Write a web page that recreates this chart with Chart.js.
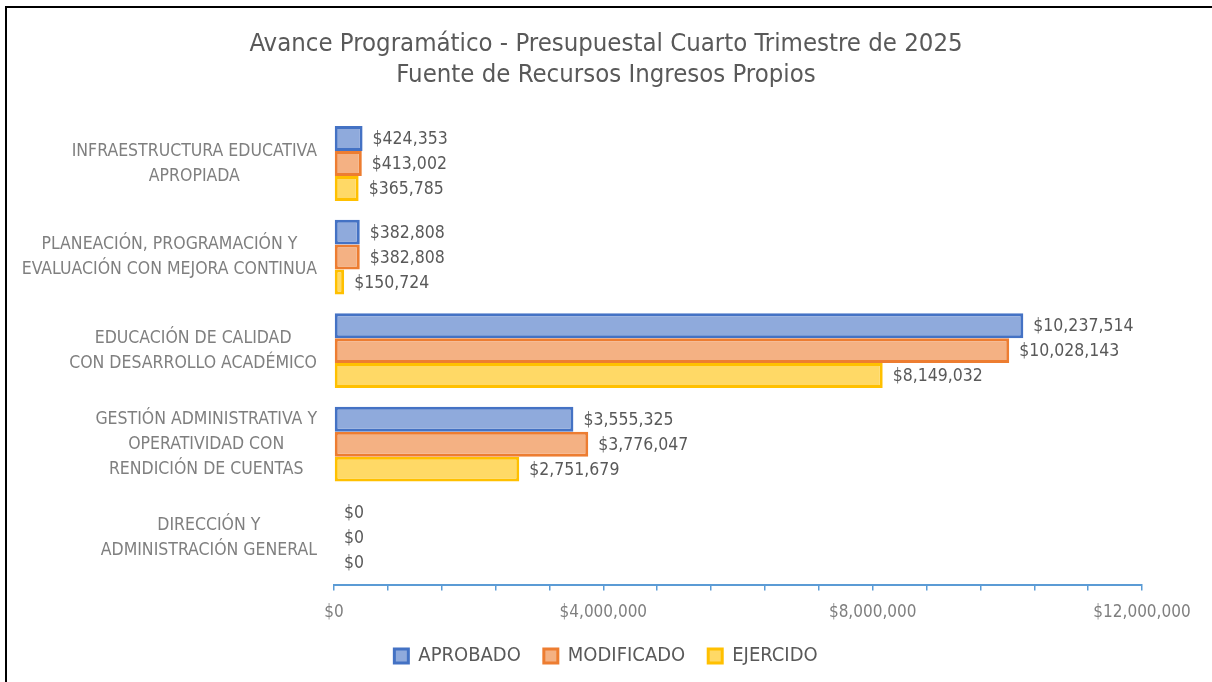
<!DOCTYPE html>
<html>
<head>
<meta charset="utf-8">
<script src="https://cdn.jsdelivr.net/npm/chart.js@4.4.1/dist/chart.umd.min.js"></script>
<style>
  body { margin: 0; background: #fff; }
  #wrap { position: relative; width: 1212px; height: 682px; }
  #frame { position: absolute; left: 5px; top: 6px; right: 0; bottom: 0;
           border-left: 2px solid #000; border-top: 2px solid #000; }
  canvas { position: absolute; left: 0; top: 0; }
</style>
</head>
<body>
<div id="wrap">
  <div id="frame"></div>
  <canvas id="myChart" width="1212" height="682"></canvas>
</div>
<script>
var FONT = "'DejaVu Sans Condensed', 'Liberation Sans Narrow', sans-serif"

// categorías (de arriba hacia abajo)
var categorias = [
  ['INFRAESTRUCTURA EDUCATIVA', 'APROPIADA'],
  ['PLANEACIÓN, PROGRAMACIÓN Y', 'EVALUACIÓN CON MEJORA CONTINUA'],
  ['EDUCACIÓN DE CALIDAD', 'CON DESARROLLO ACADÉMICO'],
  ['GESTIÓN ADMINISTRATIVA Y', 'OPERATIVIDAD CON', 'RENDICIÓN DE CUENTAS'],
  ['DIRECCIÓN Y', 'ADMINISTRACIÓN GENERAL']
]
var aprobado   = [424353, 382808, 10237514, 3555325, 0]
var modificado = [413002, 382808, 10028143, 3776047, 0]
var ejercido   = [365785, 150724, 8149032, 2751679, 0]

var ejeMin = 0
var ejeMax = 12000000
var ejePaso = 800000
var ejeEtiquetaCada = 4000000

function pesos(v) {
  return '$' + Math.round(v).toLocaleString('en-US')
}

// etiquetas de valor al final de cada barra
var etiquetas = {
  id: 'etiquetas',
  afterDatasetsDraw: function (chart) {
    var ctx = chart.ctx
    ctx.save()
    ctx.font = '17.5px ' + FONT
    ctx.fillStyle = '#595959'
    ctx.textAlign = 'left'
    ctx.textBaseline = 'middle'
    chart.data.datasets.forEach(function (ds, i) {
      chart.getDatasetMeta(i).data.forEach(function (bar, j) {
        ctx.fillText(pesos(ds.data[j]), bar.x + 10, bar.y + 1)
      })
    })
    ctx.restore()
  }
}

// nombres de categoría: bloque alineado a la derecha, líneas centradas
var nombres = {
  id: 'nombres',
  afterDraw: function (chart) {
    var ctx = chart.ctx
    var ejeY = chart.scales.y
    ctx.save()
    ctx.font = '17.5px ' + FONT
    ctx.fillStyle = '#7F7F7F'
    ctx.textAlign = 'center'
    ctx.textBaseline = 'middle'
    chart.data.labels.forEach(function (lineas, i) {
      var ancho = Math.max.apply(null, lineas.map(function (l) { return ctx.measureText(l).width }))
      var cx = ejeY.right - 17 - ancho / 2
      var cy = ejeY.getPixelForTick(i)
      lineas.forEach(function (l, k) {
        ctx.fillText(l, cx, cy + (k - (lineas.length - 1) / 2) * 25)
      })
    })
    ctx.restore()
  }
}

var ctx = document.getElementById('myChart').getContext('2d')
var myChart = new Chart(ctx, {
  type: 'bar',
  data: {
    labels: categorias,
    datasets: [{
      label: 'APROBADO',
      data: aprobado,
      backgroundColor: '#8FAADC',
      borderColor: '#4472C4',
      borderWidth: 3,
      borderSkipped: false
    }, {
      label: 'MODIFICADO',
      data: modificado,
      backgroundColor: '#F4B183',
      borderColor: '#ED7D31',
      borderWidth: 3,
      borderSkipped: false
    }, {
      label: 'EJERCIDO',
      data: ejercido,
      backgroundColor: '#FFD966',
      borderColor: '#FFC000',
      borderWidth: 3,
      borderSkipped: false
    }]
  },
  options: {
    indexAxis: 'y',
    responsive: false,
    animation: false,
    datasets: { bar: { categoryPercentage: 0.8, barPercentage: 1 } },
    layout: { padding: { left: 0, right: 0, top: 0, bottom: 6 } },
    plugins: {
      title: {
        display: true,
        text: ['Avance Programático - Presupuestal Cuarto Trimestre de 2025',
               'Fuente de Recursos Ingresos Propios'],
        color: '#595959',
        font: { family: FONT, size: 25.5, weight: 'normal', lineHeight: 1.25 },
        padding: { top: 28, bottom: 25 }
      },
      legend: {
        position: 'bottom',
        labels: {
          color: '#595959',
          font: { family: FONT, size: 20 },
          boxWidth: 14,
          boxHeight: 14,
          padding: 23
        }
      },
      tooltip: { enabled: false }
    },
    scales: {
      x: {
        min: ejeMin,
        max: ejeMax,
        afterFit: function (scale) {
          scale.height = 38.5
          scale.paddingRight = 70
        },
        grid: { drawOnChartArea: false, color: '#5B9BD5', tickLength: 6, lineWidth: 1.5 },
        border: { color: '#5B9BD5', width: 2 },
        ticks: {
          stepSize: ejePaso,
          autoSkip: false,
          maxRotation: 0,
          color: '#7F7F7F',
          font: { family: FONT, size: 17 },
          padding: 11.5,
          callback: function (v) {
            return Math.round(v) % ejeEtiquetaCada === 0 ? pesos(v) : ''
          }
        }
      },
      y: {
        grid: { display: false },
        border: { display: false },
        afterFit: function (scale) { scale.width = 334 },
        ticks: { display: false }
      }
    }
  },
  plugins: [etiquetas, nombres]
})
</script>
</body>
</html>
